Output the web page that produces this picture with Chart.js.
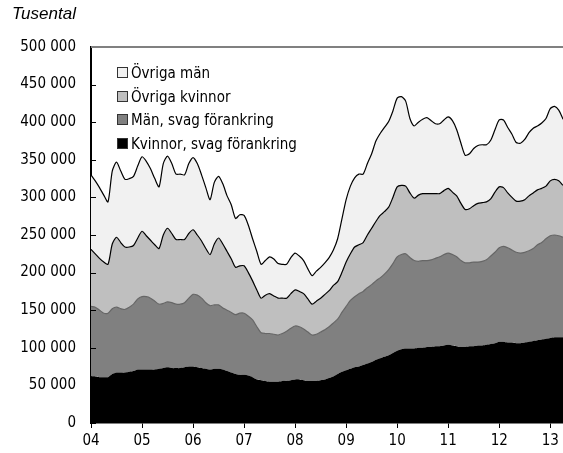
<!DOCTYPE html>
<html lang="sv">
<head>
<meta charset="utf-8">
<script src="https://cdn.jsdelivr.net/npm/chart.js@4/dist/chart.umd.min.js"></script>
<style>
    body { margin: 0; background: #fff; }
    #wrap { position: relative; width: 563px; height: 453px; }
    #titel { position: absolute; left: 12px; top: 4px; font: italic 17px "Liberation Sans", Arial, sans-serif; color: #000; }
    #legend { position: absolute; left: 117px; top: 62px; font: 15px "DejaVu Sans Condensed", sans-serif; color: #000; }
    #legend div { height: 23.5px; line-height: 23px; white-space: nowrap; }
    #legend span { display: inline-block; width: 9px; height: 9px; border: 1px solid #333; margin-right: 3px; vertical-align: 0; }
</style>
</head>
<body>
<div id="wrap">
    <canvas id="chart" width="563" height="453"></canvas>
    <div id="titel">Tusental</div>
    <div id="legend"></div>
</div>
<script>
// tusental, månadsvärden jan 2004 - apr 2013
const arTicks = ["04", "05", "06", "07", "08", "09", "10", "11", "12", "13"];

const kvinnorSvag = [
    62, 62, 61, 61, 61, 65, 67, 67, 67, 68, 69, 71,
    71, 71, 71, 71, 72, 73, 74, 73, 73, 73, 74, 75,
    75, 74, 73, 72, 71, 72, 72, 71, 69, 67, 65, 64,
    64, 63, 61, 58, 57, 56, 55, 55, 55, 56, 56, 57,
    58, 58, 57, 56, 56, 56, 57, 58, 60, 62, 65, 68,
    70, 72, 74, 75, 77, 79, 81, 84, 86, 88, 90, 93,
    96, 98, 99, 99, 99, 100, 100, 101, 101, 102, 102, 103,
    104, 103, 102, 101, 101, 102, 102, 103, 103, 104, 105, 106,
    108, 108, 107, 107, 106, 106, 107, 108, 109, 110, 111, 112,
    113, 114, 114, 114
];
const manSvag = [
    93, 92, 89, 85, 85, 87, 87, 85, 84, 86, 89, 94,
    97, 97, 95, 91, 86, 86, 87, 87, 85, 85, 86, 91,
    96, 96, 93, 88, 85, 85, 85, 82, 81, 80, 79, 82,
    82, 79, 76, 70, 63, 63, 64, 63, 62, 63, 66, 69,
    71, 70, 68, 65, 61, 62, 64, 66, 68, 71, 73, 79,
    85, 91, 94, 97, 98, 101, 103, 105, 107, 110, 114, 119,
    125, 126, 126, 121, 117, 115, 116, 115, 116, 117, 119, 121,
    122, 121, 119, 115, 112, 111, 112, 111, 112, 113, 117, 121,
    125, 127, 126, 123, 121, 120, 120, 121, 123, 127, 129, 133,
    136, 136, 135, 133
];
const ovrigaKvinnor = [
    76, 71, 69, 68, 65, 86, 93, 88, 83, 80, 78, 81,
    87, 81, 77, 75, 74, 91, 98, 92, 86, 86, 84, 86,
    86, 80, 76, 72, 68, 81, 89, 85, 78, 71, 63, 63,
    63, 58, 52, 49, 46, 51, 53, 51, 49, 47, 44, 46,
    48, 47, 47, 44, 41, 44, 45, 47, 48, 50, 50, 53,
    59, 62, 66, 65, 65, 70, 75, 79, 83, 83, 83, 88,
    93, 92, 90, 86, 83, 88, 89, 89, 88, 86, 84, 85,
    86, 83, 81, 76, 71, 72, 75, 78, 78, 77, 76, 80,
    81, 78, 73, 70, 68, 69, 70, 73, 74, 73, 72, 70,
    73, 74, 73, 69
];
const ovrigaMan = [
    99, 97, 94, 89, 83, 97, 100, 95, 90, 91, 92, 96,
    99, 99, 95, 88, 82, 95, 96, 93, 87, 87, 86, 93,
    96, 95, 88, 81, 73, 82, 82, 80, 74, 72, 65, 68,
    67, 63, 56, 51, 45, 46, 49, 49, 46, 45, 45, 48,
    49, 47, 44, 40, 38, 40, 41, 42, 44, 47, 57, 71,
    83, 90, 92, 94, 91, 95, 99, 107, 109, 112, 114, 115,
    118, 118, 113, 99, 96, 97, 99, 101, 97, 93, 93, 94,
    95, 95, 88, 80, 72, 73, 76, 77, 77, 76, 78, 83,
    89, 90, 87, 84, 78, 77, 80, 84, 86, 85, 87, 90,
    96, 97, 94, 88
];

const manader = [];
arTicks.forEach(ar => {
    for (let m = 1; m <= 12; m++) {
        if (manader.length < kvinnorSvag.length) manader.push(ar + "-" + m);
    }
});

const serier = [
    { label: "Kvinnor, svag förankring", data: kvinnorSvag, fill: "origin", color: "#000000", line: "rgba(0,0,0,0)" },
    { label: "Män, svag förankring", data: manSvag, fill: "-1", color: "#808080", line: "#666666" },
    { label: "Övriga kvinnor", data: ovrigaKvinnor, fill: "-1", color: "#bfbfbf", line: "#000000" },
    { label: "Övriga män", data: ovrigaMan, fill: "-1", color: "#f1f1f1", line: "#000000" }
];

const FONT = "'DejaVu Sans Condensed', sans-serif";

// små tickmarkeringar innanför y-axeln + grå linje överst
const ramPlugin = {
    id: "ram",
    afterDatasetsDraw(chart) {
        const { ctx, chartArea, scales } = chart;
        ctx.save();
        ctx.strokeStyle = "#000";
        ctx.lineWidth = 1;
        scales.y.ticks.forEach(t => {
            const y = Math.round(scales.y.getPixelForValue(t.value)) + 0.5;
            ctx.beginPath();
            ctx.moveTo(chartArea.left, y);
            ctx.lineTo(chartArea.left + 5, y);
            ctx.stroke();
        });
        ctx.strokeStyle = "#808080";
        ctx.lineWidth = 2;
        ctx.beginPath();
        ctx.moveTo(chartArea.left, chartArea.top);
        ctx.lineTo(chartArea.right, chartArea.top);
        ctx.stroke();
        ctx.restore();
    }
};

new Chart(document.getElementById("chart"), {
    type: "line",
    data: {
        labels: manader,
        datasets: serier.map(s => ({
            label: s.label,
            data: s.data,
            fill: s.fill,
            backgroundColor: s.color,
            borderColor: s.line,
            borderWidth: 1.2,
            pointRadius: 0,
            tension: 0.25
        }))
    },
    options: {
        responsive: false,
        animation: false,
        layout: { padding: { top: 47, left: 0, right: 0, bottom: 0 } },
        plugins: {
            legend: { display: false },
            tooltip: { enabled: false }
        },
        scales: {
            x: {
                offset: false,
                afterFit: s => { s.height = 30; },
                grid: { drawOnChartArea: false, drawTicks: true, tickLength: 5, color: "#000" },
                border: { color: "#000", width: 1.5 },
                ticks: {
                    autoSkip: false,
                    maxRotation: 0,
                    padding: 4,
                    color: "#000",
                    font: { family: FONT, size: 15 },
                    callback: function (value) {
                        const lab = this.getLabelForValue(value);
                        return lab.endsWith("-1") ? lab.split("-")[0] : null;
                    }
                }
            },
            y: {
                stacked: true,
                min: 0,
                max: 500,
                afterFit: s => { s.width = 91; },
                grid: { drawOnChartArea: false, drawTicks: false },
                border: { color: "#000", width: 2 },
                ticks: {
                    stepSize: 50,
                    padding: 15,
                    color: "#000",
                    font: { family: FONT, size: 15 },
                    callback: v => v === 0 ? "0" : v + " 000"
                }
            }
        }
    },
    plugins: [ramPlugin]
});

// legend, översta serien först
const legend = document.getElementById("legend");
legend.innerHTML = serier.slice().reverse().map(s =>
    `<div><span style="background:${s.color}"></span>${s.label}</div>`
).join("");
</script>
</body>
</html>
